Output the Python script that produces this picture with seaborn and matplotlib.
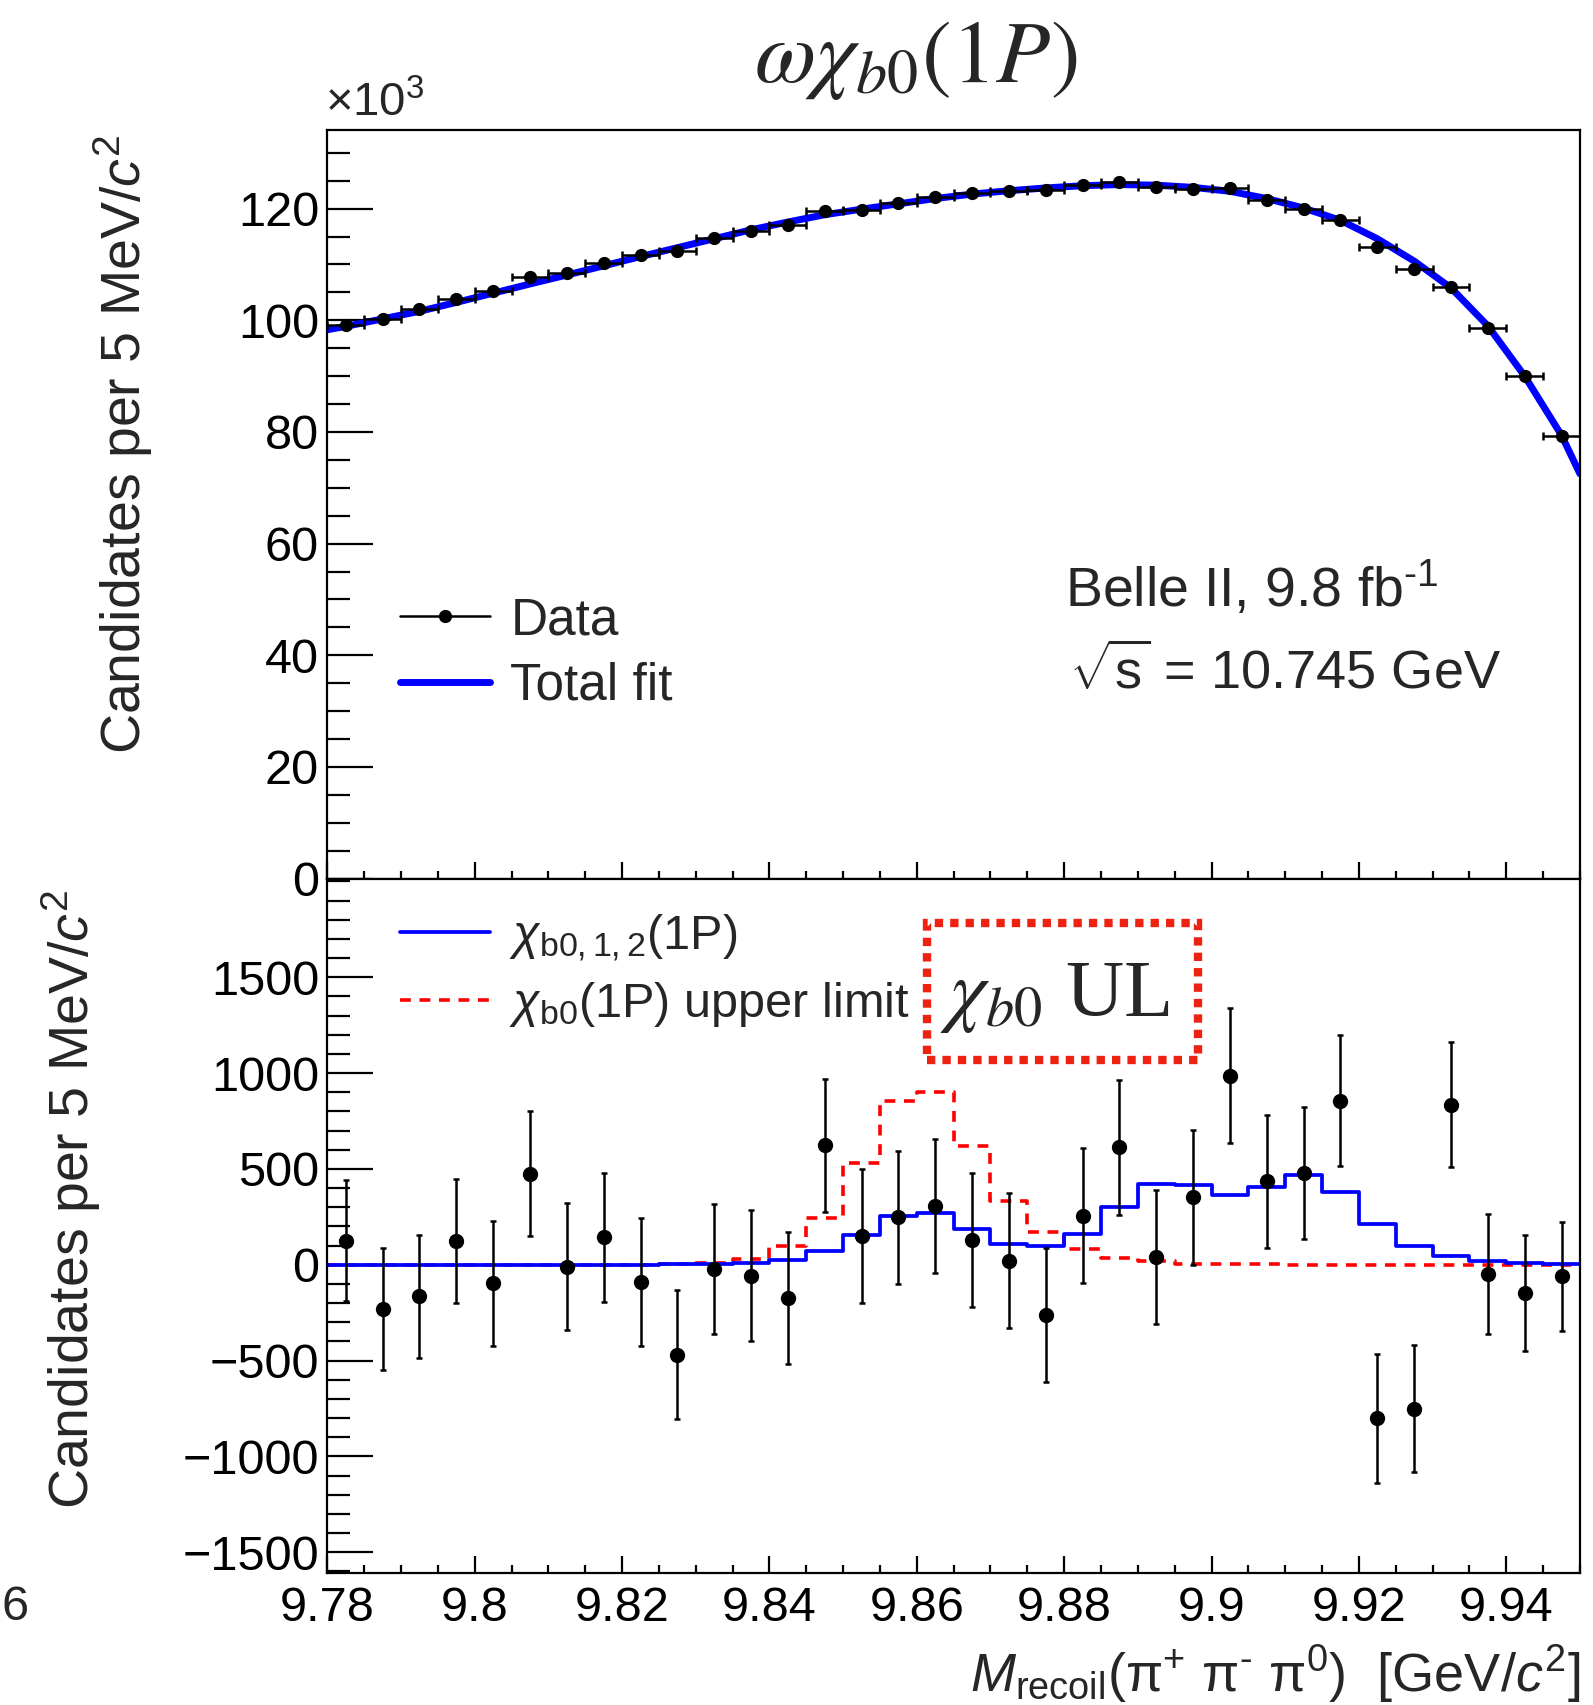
import numpy as np
import matplotlib
matplotlib.use("Agg")
import matplotlib.pyplot as plt
import seaborn as sns
from matplotlib.lines import Line2D
from matplotlib.patches import Rectangle

# ---------------- data ----------------
bin_centers = [9.7825, 9.7875, 9.7925, 9.7975, 9.8025, 9.8075, 9.8125, 9.8175,
               9.8225, 9.8275, 9.8325, 9.8375, 9.8425, 9.8475, 9.8525, 9.8575,
               9.8625, 9.8675, 9.8725, 9.8775, 9.8825, 9.8875, 9.8925, 9.8975,
               9.9025, 9.9075, 9.9125, 9.9175, 9.9225, 9.9275, 9.9325, 9.9375,
               9.9425, 9.9475]
bin_half_width = 0.0025

# top panel: candidates (x10^3)
top_counts = [99.1, 100.3, 102.1, 103.8, 105.3, 107.8, 108.4, 110.3, 111.6, 112.4,
              114.7, 115.9, 117.0, 119.6, 119.8, 121.0, 122.1, 122.8, 123.2, 123.4,
              124.3, 124.7, 123.8, 123.5, 123.7, 121.6, 119.9, 118.0, 113.1, 109.2,
              106.0, 98.6, 90.0, 79.2]

# total fit curve (x10^3), sampled at the range ends and bin centres
fit_x = [9.78] + bin_centers + [9.95]
fit_y = [98.3, 98.9, 100.25, 101.6, 103.2, 104.85, 106.5, 108.1, 109.75, 111.4,
         113.0, 114.6, 116.2, 117.6, 118.9, 119.9, 120.85, 121.8, 122.6, 123.2,
         123.7, 124.1, 124.3, 124.2, 123.8, 123.1, 121.8, 120.1, 117.9, 114.6,
         110.6, 105.8, 99.0, 90.0, 79.4, 72.5]

# bottom panel: background-subtracted candidates
sub_counts = [126, -232, -164, 125, -97, 476, -9, 143, -89, -470,
              -22, -56, -173, 623, 149, 247, 307, 130, 22, -260,
              256, 612, 41, 352, 987, 436, 479, 857, -801, -751,
              835, -48, -148, -61]
sub_errors = [317, 319, 321, 322, 325, 327, 332, 335, 335, 336,
              340, 341, 344, 347, 349, 348, 351, 351, 352, 350,
              352, 350, 351, 352, 351, 347, 345, 342, 336, 332,
              325, 314, 301, 283]
chib012 = [0, 0, 0, 0, 0, 0, 0, 0, 1, 2,
           5, 9, 24, 72, 158, 256, 271, 189, 111, 100,
           161, 300, 421, 417, 364, 404, 468, 378, 213, 100,
           45, 22, 9, 4]
chib0_ul = [0, 0, 0, 0, 0, 0, 0, 0, 1, 5,
            9, 28, 97, 242, 533, 855, 903, 622, 334, 171,
            84, 33, 19, 6, 3, 2, 1, 1, 0, 0,
            0, 0, 0, 0]

x_ticks = [9.78, 9.80, 9.82, 9.84, 9.86, 9.88, 9.90, 9.92, 9.94]
x_tick_labels = ["9.78", "9.8", "9.82", "9.84", "9.86", "9.88", "9.9", "9.92", "9.94"]
top_yticks = [0, 20, 40, 60, 80, 100, 120]
bot_yticks = [-1500, -1000, -500, 0, 500, 1000, 1500]

# ---------------- style ----------------
sns.set_theme(style="ticks")
plt.rcParams["font.family"] = ["Liberation Sans", "DejaVu Sans"]
plt.rcParams["mathtext.fontset"] = "custom"
plt.rcParams["mathtext.rm"] = "Liberation Sans"
plt.rcParams["mathtext.it"] = "Liberation Sans:italic"
plt.rcParams["mathtext.bf"] = "Liberation Sans:bold"
plt.rcParams["axes.linewidth"] = 1.6

FS = 35
RED_DASH = (0, (3.0, 2.4))
fig = plt.figure(figsize=(15.93, 17.05), dpi=100)
ax1 = fig.add_axes([0.2055, 0.4847, 0.7863, 0.4388])
ax2 = fig.add_axes([0.2055, 0.0772, 0.7863, 0.4075], sharex=ax1)

edges = [c - bin_half_width for c in bin_centers] + [bin_centers[-1] + bin_half_width]

# ---- top panel ----
sns.lineplot(x=fit_x, y=fit_y, ax=ax1, color="#0000ff", lw=5.0,
             estimator=None, sort=False, zorder=2)
ax1.errorbar(bin_centers, top_counts, xerr=bin_half_width, fmt="o", color="black",
             ms=8.5, elinewidth=1.8, capsize=3, capthick=1.8, zorder=3)
ax1.set_xlim(9.78, 9.95)
ax1.set_ylim(0, 134)
ax1.set_yticks(top_yticks)
ax1.set_yticklabels([str(t) for t in top_yticks])
ax1.yaxis.set_minor_locator(matplotlib.ticker.MultipleLocator(5))
ax1.set_xticks(x_ticks)
ax1.xaxis.set_minor_locator(matplotlib.ticker.MultipleLocator(0.005))
ax1.tick_params(axis="x", labelbottom=False)
ax1.set_ylabel("Candidates per 5 MeV/$c^{2}$", fontsize=40, loc="top")
ax1.yaxis.set_label_coords(-0.138, 0.995)
ax1.text(-0.002, 1.035, r"$\times$10$^{3}$", transform=ax1.transAxes,
         fontsize=34, ha="left", va="center")

leg1_handles = [
    Line2D([], [], color="black", lw=1.8, marker="o", ms=8.5),
    Line2D([], [], color="#0000ff", lw=5.0),
]
ax1.legend(leg1_handles, ["Data", "Total fit"], loc="center left",
           bbox_to_anchor=(0.058, 0.301), frameon=False, fontsize=37,
           handlelength=1.75, handletextpad=0.4, labelspacing=0.32,
           borderpad=0, borderaxespad=0)

ax1.text(0.589, 0.387, r"Belle II, 9.8 fb$^{\text{-}1}$", transform=ax1.transAxes,
         fontsize=40, ha="left", va="center")
ax1.text(0.592, 0.276, r"$\sqrt{\mathrm{s}}$ = 10.745 GeV", transform=ax1.transAxes,
         fontsize=39, ha="left", va="center")

# ---- bottom panel ----
sns.lineplot(x=edges, y=chib0_ul + [chib0_ul[-1]], ax=ax2, color="#ff0000", lw=2.6,
             drawstyle="steps-post", estimator=None, sort=False,
             dashes=False, linestyle=RED_DASH, zorder=2)
sns.lineplot(x=edges, y=chib012 + [chib012[-1]], ax=ax2, color="#0000ff", lw=2.7,
             drawstyle="steps-post", estimator=None, sort=False, zorder=2)
ax2.errorbar(bin_centers, sub_counts, yerr=sub_errors, fmt="o", color="black",
             ms=10, elinewidth=1.8, capsize=2.5, capthick=1.8, zorder=3)
ax2.set_ylim(-1610, 2015)
ax2.set_yticks(bot_yticks)
ax2.set_yticklabels([str(t).replace("-", "\u2212") for t in bot_yticks])
ax2.yaxis.set_minor_locator(matplotlib.ticker.MultipleLocator(100))
ax2.set_xticks(x_ticks)
ax2.set_xticklabels(x_tick_labels)
ax2.xaxis.set_minor_locator(matplotlib.ticker.MultipleLocator(0.005))
ax2.set_xlim(9.78, 9.95)
ax2.set_ylabel("Candidates per 5 MeV/$c^{2}$", fontsize=40, loc="top")
ax2.yaxis.set_label_coords(-0.179, 0.985)
ax2.set_xlabel(r"$M_{\mathrm{recoil}}$(π$^{+}$ π$^{\text{-}}$ π$^{0}$)  [GeV/$c^{2}$]",
               fontsize=39, loc="right")
ax2.xaxis.set_label_coords(1.0, -0.1)

leg2_handles = [
    Line2D([], [], color="#0000ff", lw=2.7),
    Line2D([], [], color="#ff0000", lw=2.6, linestyle=RED_DASH),
]
ax2.legend(leg2_handles, [r"$\chi_{\mathrm{b0,1,2}}$(1P)", r"$\chi_{\mathrm{b0}}$(1P) upper limit"],
           loc="center left", bbox_to_anchor=(0.058, 0.868), frameon=False,
           fontsize=35, handlelength=1.85, handletextpad=0.4, labelspacing=0.33,
           borderpad=0, borderaxespad=0)

box = Rectangle((0.479, 0.739), 0.216, 0.197, transform=ax2.transAxes, fill=False,
                edgecolor="#ee2211", lw=6.0, linestyle=(0, (1.0, 0.85)), zorder=5)
ax2.add_patch(box)
ax2.text(0.581, 0.828, r"$\chi_{b0}$ UL", transform=ax2.transAxes, fontsize=58,
         family="Liberation Serif", math_fontfamily="stix", ha="center", va="center",
         zorder=6)

for ax in (ax1, ax2):
    ax.tick_params(axis="both", which="both", direction="in", top=False, right=False,
                   width=1.6, labelsize=FS, colors="black")
    ax.tick_params(axis="y", which="major", length=33, pad=6)
    ax.tick_params(axis="y", which="minor", length=16.5)
    ax.tick_params(axis="x", which="major", length=12, pad=9)
    ax.tick_params(axis="x", which="minor", length=6)
    for s in ax.spines.values():
        s.set_visible(True)
        s.set_color("black")
        s.set_linewidth(1.6)
    ax.set_facecolor("white")

fig.text(0.575, 0.965, r"$\omega\chi_{b0}(1P)$", fontsize=64, math_fontfamily="stix",
         ha="center", va="center")
fig.text(0.001, 1 - 1478 / 1568, "6", fontsize=FS, ha="left", va="center")

fig.savefig("out.png", dpi=100, facecolor="white")
